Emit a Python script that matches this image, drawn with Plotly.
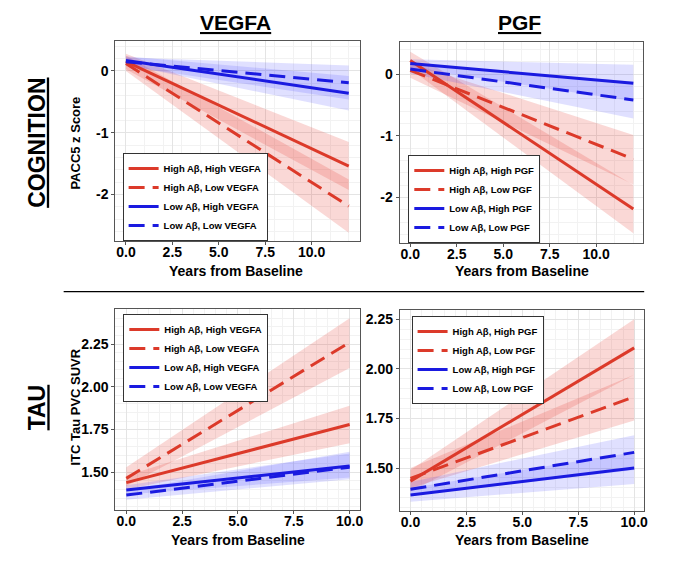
import plotly.graph_objects as go

# series order: High Ab/High, High Ab/Low, Low Ab/High, Low Ab/Low
groups = ["High Aβ, High {}", "High Aβ, Low {}", "Low Aβ, High {}", "Low Aβ, Low {}"]

years_cog = [0, 12]
years_tau = [0, 10]

# cognition, VEGFA
vegfa_cog_start = [0.15, 0.12, 0.17, 0.15]
vegfa_cog_start_lo = [0.03, 0.00, 0.10, 0.08]
vegfa_cog_start_hi = [0.28, 0.25, 0.24, 0.22]
vegfa_cog_end = [-1.54, -2.19, -0.36, -0.19]
vegfa_cog_end_lo = [-1.93, -2.62, -0.64, -0.46]
vegfa_cog_end_hi = [-1.15, -1.76, -0.08, 0.09]

# cognition, PGF
pgf_cog_start = [0.22, 0.06, 0.17, 0.08]
pgf_cog_start_lo = [0.08, -0.06, 0.10, 0.01]
pgf_cog_start_hi = [0.36, 0.18, 0.24, 0.15]
pgf_cog_end = [-2.19, -1.38, -0.15, -0.42]
pgf_cog_end_lo = [-2.58, -1.79, -0.44, -0.72]
pgf_cog_end_hi = [-1.80, -0.99, 0.15, -0.12]

# tau, VEGFA
vegfa_tau_start = [1.44, 1.465, 1.397, 1.367]
vegfa_tau_start_lo = [1.40, 1.42, 1.37, 1.34]
vegfa_tau_start_hi = [1.48, 1.53, 1.425, 1.395]
vegfa_tau_end = [1.78, 2.26, 1.537, 1.53]
vegfa_tau_end_lo = [1.67, 2.11, 1.47, 1.46]
vegfa_tau_end_hi = [1.89, 2.40, 1.61, 1.62]

# tau, PGF
pgf_tau_start = [1.434, 1.448, 1.364, 1.393]
pgf_tau_start_lo = [1.38, 1.40, 1.33, 1.36]
pgf_tau_start_hi = [1.49, 1.50, 1.40, 1.43]
pgf_tau_end = [2.106, 1.859, 1.50, 1.579]
pgf_tau_end_lo = [1.97, 1.74, 1.42, 1.49]
pgf_tau_end_hi = [2.25, 1.97, 1.58, 1.666]

year_ticks = [0, 2.5, 5, 7.5, 10]
year_ticklabels = ["0.0", "2.5", "5.0", "7.5", "10.0"]
cog_ticks = [0, -1, -2]
cog_ticklabels = ["0", "-1", "-2"]
tau_ticks = [1.5, 1.75, 2.0, 2.25]
tau_ticklabels = ["1.50", "1.75", "2.00", "2.25"]

RED = "#dc3a2a"
BLUE = "#1a1ae0"
RED_FILL = "rgba(232,62,50,0.2)"
BLUE_FILL = "rgba(60,60,255,0.16)"
colors = [RED, RED, BLUE, BLUE]
fills = [RED_FILL, RED_FILL, BLUE_FILL, BLUE_FILL]
dashes = ["solid", "16px,8px", "solid", "16px,8px"]
FONT = "Liberation Sans, Arial, sans-serif"

# the page body adds an 8px margin, so the figure is 8px smaller
W, H, OFF = 672, 553, 8


def fx(p):
    return (p - OFF) / W


def fy(p):
    return 1 - (p - OFF) / H


def bold(labels):
    return ["<b>%s</b>" % t for t in labels]


fig = go.Figure()

panels = [
    ("", years_cog, vegfa_cog_start, vegfa_cog_start_lo, vegfa_cog_start_hi,
     vegfa_cog_end, vegfa_cog_end_lo, vegfa_cog_end_hi, "VEGFA", "legend"),
    ("2", years_cog, pgf_cog_start, pgf_cog_start_lo, pgf_cog_start_hi,
     pgf_cog_end, pgf_cog_end_lo, pgf_cog_end_hi, "PGF", "legend2"),
    ("3", years_tau, vegfa_tau_start, vegfa_tau_start_lo, vegfa_tau_start_hi,
     vegfa_tau_end, vegfa_tau_end_lo, vegfa_tau_end_hi, "VEGFA", "legend3"),
    ("4", years_tau, pgf_tau_start, pgf_tau_start_lo, pgf_tau_start_hi,
     pgf_tau_end, pgf_tau_end_lo, pgf_tau_end_hi, "PGF", "legend4"),
]

for ax, yrs, s, slo, shi, e, elo, ehi, prot, leg in panels:
    # ribbons first
    for i in range(4):
        fig.add_trace(go.Scatter(
            x=yrs + yrs[::-1], y=[slo[i], elo[i], ehi[i], shi[i]],
            fill="toself", fillcolor=fills[i], line=dict(width=0),
            mode="lines", showlegend=False, hoverinfo="skip",
            xaxis="x" + ax, yaxis="y" + ax))
    for i in range(4):
        fig.add_trace(go.Scatter(
            x=yrs, y=[s[i], e[i]], mode="lines",
            line=dict(color=colors[i], width=3, dash=dashes[i]),
            name=groups[i].format(prot), legend=leg,
            xaxis="x" + ax, yaxis="y" + ax))

axis_style = dict(showline=True, mirror=True, linecolor="#555555", linewidth=1.2,
                  ticks="outside", ticklen=3, tickcolor="#555555",
                  showgrid=True, gridcolor="#e4e4e4", gridwidth=1, zeroline=False,
                  tickfont=dict(family=FONT, size=14, color="black"),
                  minor=dict(showgrid=True, gridcolor="#f2f2f2", gridwidth=1))
xt = dict(tickvals=year_ticks, ticktext=bold(year_ticklabels), ticklabelstandoff=-5)
ct = dict(tickvals=cog_ticks, ticktext=bold(cog_ticklabels))
tt = dict(tickvals=tau_ticks, ticktext=bold(tau_ticklabels))

fig.update_layout(
    xaxis=dict(domain=[fx(116), fx(362)], range=[-0.57, 12.6], anchor="y", **xt, **axis_style),
    yaxis=dict(domain=[fy(241), fy(41)], range=[-2.755, 0.486], anchor="x", **ct, **axis_style),
    xaxis2=dict(domain=[fx(402), fx(647)], range=[-0.57, 12.53], anchor="y2", **xt, **axis_style),
    yaxis2=dict(domain=[fy(242.7), fy(42)], range=[-2.735, 0.519], anchor="x2", **ct, **axis_style),
    xaxis3=dict(domain=[fx(116), fx(362)], range=[-0.49, 10.46], anchor="y3", **xt, **axis_style),
    yaxis3=dict(domain=[fy(510), fy(309.3)], range=[1.28, 2.453], anchor="x3", **tt, **axis_style),
    xaxis4=dict(domain=[fx(402.3), fx(648.3)], range=[-0.47, 10.46], anchor="y4", **xt, **axis_style),
    yaxis4=dict(domain=[fy(510.7), fy(310)], range=[1.285, 2.297], anchor="x4", **tt, **axis_style),
)

legend_style = dict(bgcolor="white", bordercolor="#333333", borderwidth=1,
                    font=dict(family=FONT, size=9.5, color="black", weight="bold"),
                    xanchor="left", tracegroupgap=0, traceorder="normal", itemwidth=30)
fig.update_layout(
    legend=dict(x=fx(123.3), y=fy(197), yanchor="middle", **legend_style),
    legend2=dict(x=fx(410.7), y=fy(199), yanchor="middle", **legend_style),
    legend3=dict(x=fx(124), y=fy(314), yanchor="top", **legend_style),
    legend4=dict(x=fx(414), y=fy(316), yanchor="top", **legend_style),
)

title_font = dict(family=FONT, size=21, color="black", weight="bold", lineposition="under")
side_font = dict(family=FONT, size=23, color="black", weight="bold", lineposition="under")
axtitle_font = dict(family=FONT, size=14, color="black", weight="bold")
ytitle_font = dict(family=FONT, size=13, color="black", weight="bold")

annotations = [
    dict(text="VEGFA", x=fx(237), y=fy(23), font=title_font),
    dict(text="PGF", x=fx(523), y=fy(23), font=title_font),
    dict(text="COGNITION", x=fx(37), y=fy(143), textangle=-90, font=side_font),
    dict(text="TAU", x=fx(37), y=fy(407.5), textangle=-90, font=side_font),
    dict(text="PACC5 z Score", x=fx(75), y=fy(143), textangle=-90, font=ytitle_font),
    dict(text="ITC Tau PVC SUVR", x=fx(75), y=fy(407), textangle=-90, font=ytitle_font),
    dict(text="Years from Baseline", x=fx(237), y=fy(271), font=axtitle_font),
    dict(text="Years from Baseline", x=fx(525), y=fy(271), font=axtitle_font),
    dict(text="Years from Baseline", x=fx(239), y=fy(540), font=axtitle_font),
    dict(text="Years from Baseline", x=fx(525), y=fy(540), font=axtitle_font),
]
for a in annotations:
    a.update(xref="paper", yref="paper", showarrow=False, xanchor="center", yanchor="middle")

fig.update_layout(
    annotations=annotations,
    shapes=[dict(type="line", xref="paper", yref="paper", x0=fx(64), x1=fx(648),
                 y0=fy(291.7), y1=fy(291.7), line=dict(color="black", width=1.2))],
    width=W, height=H,
    margin=dict(l=0, r=0, t=0, b=0),
    paper_bgcolor="white", plot_bgcolor="white",
    font=dict(family=FONT),
)

fig.write_html("out.html")
